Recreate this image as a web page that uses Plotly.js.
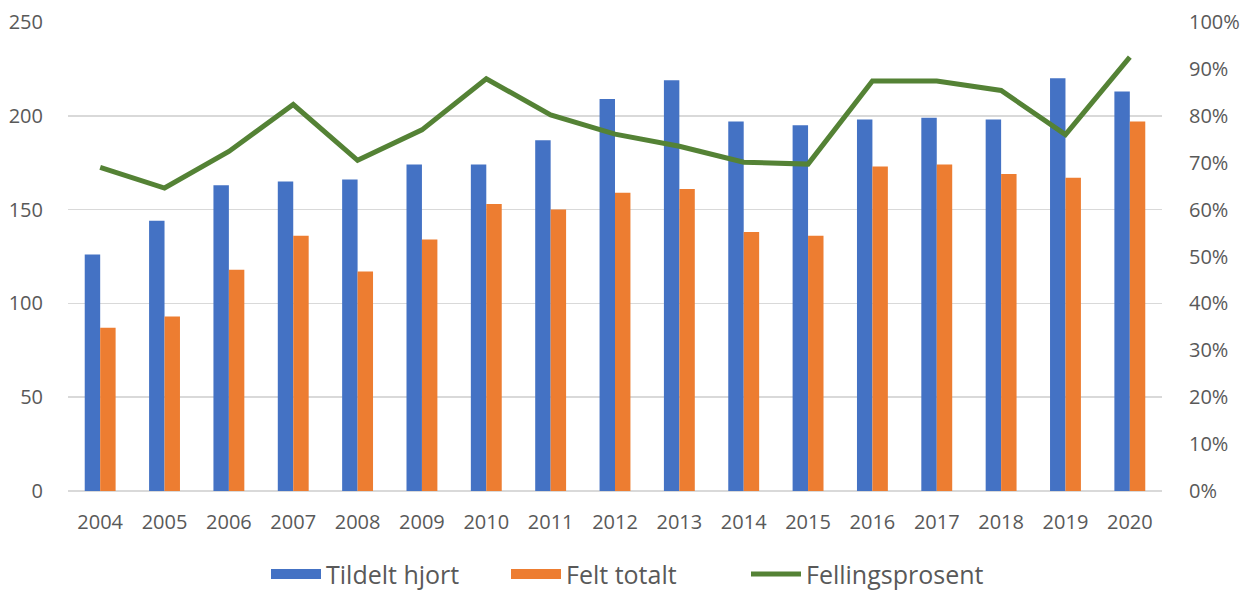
<!DOCTYPE html>
<html>
<head>
<meta charset="utf-8">
<script src="https://cdn.plot.ly/plotly-3.0.1.min.js"></script>
<style>html,body{margin:0;padding:0;background:#fff;}#chart{width:1252px;height:592px;}</style>
</head>
<body>
<div id="chart"></div>
<script>
const years = ['2004','2005','2006','2007','2008','2009','2010','2011','2012','2013','2014','2015','2016','2017','2018','2019','2020'];
const tildelt = [126,144,163,165,166,174,174,187,209,219,197,195,198,199,198,220,213];
const felt = [87,93,118,136,117,134,153,150,159,161,138,136,173,174,169,167,197];
const fellingsprosent = [0.690,0.646,0.724,0.824,0.705,0.770,0.879,0.802,0.761,0.735,0.701,0.697,0.874,0.874,0.854,0.760,0.925];
const leftTicks = [0,50,100,150,200,250];

const fontFam = 'Open Sans, sans-serif';
const grey = '#595959';
const blue = '#4472C4', orange = '#ED7D31', green = '#548235';

const traces = [
  {type:'bar', name:'Tildelt hjort', x:years, y:tildelt, marker:{color:blue}, yaxis:'y', showlegend:false},
  {type:'bar', name:'Felt totalt', x:years, y:felt, marker:{color:orange}, yaxis:'y', showlegend:false},
  {type:'scatter', mode:'lines', name:'Fellingsprosent', x:years, y:fellingsprosent, yaxis:'y2',
   line:{color:green, width:5}, showlegend:false},
  // legend keys (wide rectangles like the original)
  {type:'scatter', mode:'lines', name:'Tildelt hjort', x:[null], y:[null], line:{color:blue, width:15}},
  {type:'scatter', mode:'lines', name:'Felt totalt', x:[null], y:[null], line:{color:orange, width:15}},
  {type:'scatter', mode:'lines', name:'Fellingsprosent', x:[null], y:[null], line:{color:green, width:5}}
];

const layout = {
  width:1252, height:592,
  margin:{l:68, r:90, t:22, b:100.5},
  paper_bgcolor:'#fff', plot_bgcolor:'#fff',
  font:{family:fontFam, color:grey, size:20},
  barmode:'group', bargap:0.52, bargroupgap:0,
  showlegend:true,
  legend:{orientation:'h', xref:'container', yref:'container', x:0.5, xanchor:'center', y:0.03, yanchor:'middle',
          font:{size:25, color:grey}, itemwidth:50, traceorder:'normal', entrywidth:175, entrywidthmode:'pixels'},
  xaxis:{type:'category', tickfont:{size:20, color:grey}, showgrid:false, automargin:false,
         ticks:'outside', ticklen:13, tickcolor:'rgba(0,0,0,0)',
         showline:false, zeroline:false},
  yaxis:{range:[0,250], tickvals:leftTicks, tickfont:{size:20, color:grey}, automargin:false,
         gridcolor:'#d9d9d9', gridwidth:1.5, zeroline:true, zerolinecolor:'#d9d9d9', zerolinewidth:1.5,
         ticks:'outside', ticklen:20, tickcolor:'rgba(0,0,0,0)', showline:false},
  yaxis2:{range:[0,1], dtick:0.1, tick0:0, tickformat:'.0%', overlaying:'y', side:'right', automargin:false,
          showgrid:false, zeroline:false, tickfont:{size:20, color:grey},
          ticks:'outside', ticklen:22, tickcolor:'rgba(0,0,0,0)', showline:false}
};

Plotly.newPlot('chart', traces, layout, {displayModeBar:false, staticPlot:true});
</script>
</body>
</html>
